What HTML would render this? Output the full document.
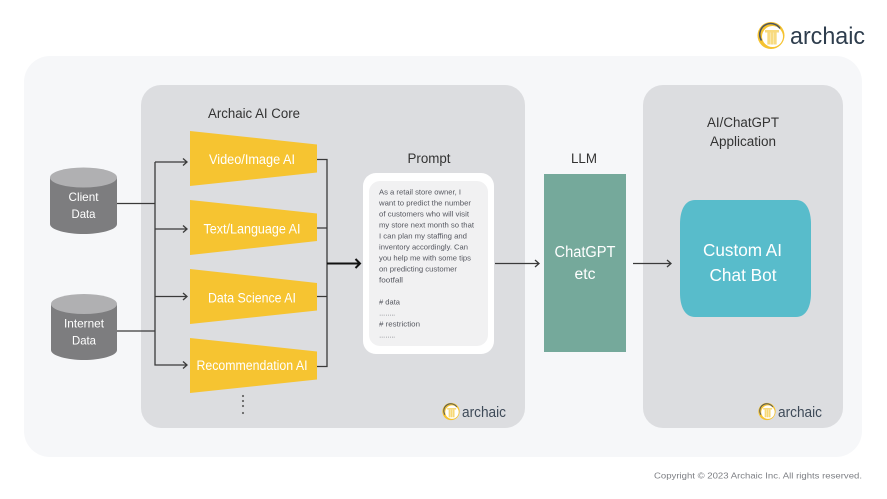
<!DOCTYPE html>
<html>
<head>
<meta charset="utf-8">
<style>
html,body{margin:0;padding:0;background:#fff}
svg{display:block}
text{font-family:"Liberation Sans","DejaVu Sans",sans-serif}
</style>
</head>
<body>
<svg width="887" height="499" viewBox="0 0 887 499" xmlns="http://www.w3.org/2000/svg">
<defs>
<g id="logo">
<circle cx="0" cy="0" r="13.5" fill="#f5c22f"/>
<circle cx="1.500" cy="1" r="10.500" fill="#fff"/>
<path d="M-9.500 5A10.500 10.500 0 0 1 9 -7" fill="none" stroke="#4a5560" stroke-width="1.500"/>
<rect x="-6" y="-5.500" width="14" height="2.500" fill="#f8da7d"/>
<rect x="-4" y="-3" width="10" height="12" fill="#fae7a8"/>
<path d="M-2 -3V9M1 -3V9M4 -3V9" stroke="#f6cf5a" stroke-width="1" fill="none"/>
</g>
</defs>
<rect width="887" height="499" fill="#fff"/>
<rect x="24" y="56" width="838" height="401" rx="26" fill="#f6f7f9"/>
<rect x="141" y="85" width="384" height="343" rx="20" fill="#dcdde0"/>
<rect x="643" y="85" width="200" height="343" rx="20" fill="#dcdde0"/>

<use href="#logo" transform="translate(771,35.500)"/>
<text x="790" y="44" font-size="24" fill="#2e3d4d" textLength="75" lengthAdjust="spacingAndGlyphs">archaic</text>

<g fill="none" stroke="#3a3a3a" stroke-width="1.300">
<path d="M117 203.500H155M117 331H155M155 162V365H187M155 162H187M155 229H187M155 296.500H187"/>
<path d="M183 158.500L187 162L183 165.500M183 225.500L187 229L183 232.500M183 293L187 296.500L183 300M183 361.500L187 365L183 368.500"/>
<path d="M317 159.500H327V366.500H317M317 228H327M317 296.500H327"/>
<path d="M495 263.500H539M535 260L539 263.500L535 267"/>
<path d="M633 263.500H671M667 260L671 263.500L667 267"/>
</g>
<path d="M327 263.500H360M355.500 259L360 263.500L355.500 268" fill="none" stroke="#111" stroke-width="2"/>

<g fill="#7d7d7f">
<path d="M50 177.500V224C50 230 67 234 83.500 234S117 230 117 224V177.500Z"/>
<path d="M51 304.500V350C51 356 68 360 84 360S117 356 117 350V304.500Z"/>
</g>
<ellipse cx="83.500" cy="177.500" rx="33.500" ry="10" fill="#b0b0b2"/>
<ellipse cx="84" cy="304" rx="33" ry="10" fill="#b0b0b2"/>
<g fill="#fff" font-size="12" text-anchor="middle">
<text x="83.500" y="201" textLength="30" lengthAdjust="spacingAndGlyphs">Client</text>
<text x="83.500" y="218" textLength="24" lengthAdjust="spacingAndGlyphs">Data</text>
<text x="84" y="327.500" textLength="40" lengthAdjust="spacingAndGlyphs">Internet</text>
<text x="84" y="344.500" textLength="24" lengthAdjust="spacingAndGlyphs">Data</text>
</g>

<g fill="#f6c431">
<polygon points="190,131 317,144.500 317,172.500 190,186"/>
<polygon points="190,200 317,213.500 317,241 190,255"/>
<polygon points="190,269 317,283 317,310.500 190,324"/>
<polygon points="190,338 317,351.500 317,379.500 190,393"/>
</g>
<g fill="#fff" font-size="13.500" text-anchor="middle">
<text x="252" y="164" textLength="86" lengthAdjust="spacingAndGlyphs">Video/Image AI</text>
<text x="252" y="233.500" textLength="97" lengthAdjust="spacingAndGlyphs">Text/Language AI</text>
<text x="252" y="302.500" textLength="88" lengthAdjust="spacingAndGlyphs">Data Science AI</text>
<text x="252" y="370" textLength="111" lengthAdjust="spacingAndGlyphs">Recommendation AI</text>
</g>
<g fill="#666">
<circle cx="243" cy="396" r="1.100"/><circle cx="243" cy="401" r="1.100"/><circle cx="243" cy="406" r="1.100"/><circle cx="243" cy="413" r="1.100"/>
</g>

<g fill="#333" font-size="13.500" text-anchor="middle">
<text x="254" y="118" textLength="92" lengthAdjust="spacingAndGlyphs">Archaic AI Core</text>
<text x="429" y="163" textLength="43" lengthAdjust="spacingAndGlyphs">Prompt</text>
<text x="584" y="163" textLength="26" lengthAdjust="spacingAndGlyphs">LLM</text>
<text x="743" y="127" textLength="72" lengthAdjust="spacingAndGlyphs">AI/ChatGPT</text>
<text x="743" y="146" textLength="66" lengthAdjust="spacingAndGlyphs">Application</text>
</g>

<rect x="363" y="173" width="131" height="181" rx="13" fill="#fff"/>
<rect x="369" y="181" width="119" height="165" rx="11" fill="#f1f1f2"/>
<g fill="#55575f" font-size="7.500">
<text x="379" y="194.500" textLength="82" lengthAdjust="spacingAndGlyphs">As a retail store owner, I</text>
<text x="379" y="205.500" textLength="92" lengthAdjust="spacingAndGlyphs">want to predict the number</text>
<text x="379" y="216.500" textLength="90" lengthAdjust="spacingAndGlyphs">of customers who will visit</text>
<text x="379" y="227.500" textLength="95" lengthAdjust="spacingAndGlyphs">my store next month so that</text>
<text x="379" y="238.500" textLength="88" lengthAdjust="spacingAndGlyphs">I can plan my staffing and</text>
<text x="379" y="249.500" textLength="89" lengthAdjust="spacingAndGlyphs">inventory accordingly. Can</text>
<text x="379" y="260.500" textLength="92" lengthAdjust="spacingAndGlyphs">you help me with some tips</text>
<text x="379" y="271.500" textLength="78" lengthAdjust="spacingAndGlyphs">on predicting customer</text>
<text x="379" y="282.500" textLength="24" lengthAdjust="spacingAndGlyphs">footfall</text>
<text x="379" y="304.500" textLength="21" lengthAdjust="spacingAndGlyphs"># data</text>
<text x="379" y="315.500" textLength="16" lengthAdjust="spacingAndGlyphs">……..</text>
<text x="379" y="326.500" textLength="41" lengthAdjust="spacingAndGlyphs"># restriction</text>
<text x="379" y="337.500" textLength="16" lengthAdjust="spacingAndGlyphs">……..</text>
</g>

<rect x="544" y="174" width="82" height="178" fill="#75a99b"/>
<g fill="#fff" font-size="15.500" text-anchor="middle">
<text x="585" y="257" textLength="61" lengthAdjust="spacingAndGlyphs">ChatGPT</text>
<text x="585" y="279" textLength="21" lengthAdjust="spacingAndGlyphs">etc</text>
</g>

<path d="M695 200H796C806 200 811 210 811 224V293C811 307 806 317 796 317H695C685 317 680 307 680 293V224C680 210 685 200 695 200Z" fill="#58bccb"/>
<g fill="#fff" font-size="17.500" text-anchor="middle">
<text x="742.500" y="256" textLength="79" lengthAdjust="spacingAndGlyphs">Custom AI</text>
<text x="743" y="281" textLength="67" lengthAdjust="spacingAndGlyphs">Chat Bot</text>
</g>

<use href="#logo" transform="translate(451,411.500) scale(.64)"/>
<text x="462" y="417" font-size="15" fill="#3e4a58" textLength="44" lengthAdjust="spacingAndGlyphs">archaic</text>
<use href="#logo" transform="translate(767,411.500) scale(.64)"/>
<text x="778" y="417" font-size="15" fill="#3e4a58" textLength="44" lengthAdjust="spacingAndGlyphs">archaic</text>

<text x="654" y="478.500" font-size="8.500" fill="#7d7f84" textLength="208" lengthAdjust="spacingAndGlyphs">Copyright © 2023 Archaic Inc. All rights reserved.</text>
</svg>
</body>
</html>
